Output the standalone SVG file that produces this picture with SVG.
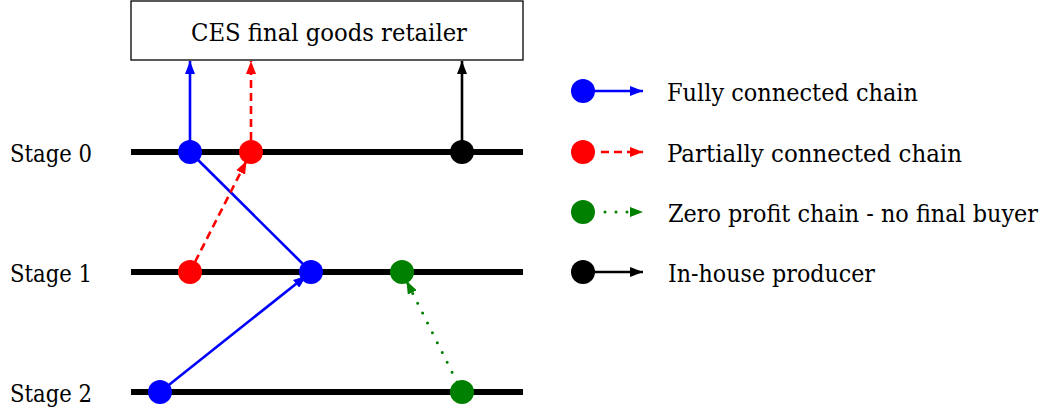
<svg xmlns="http://www.w3.org/2000/svg" width="1054" height="414" viewBox="0 0 1054 414">
<style>
text{font-family:"DejaVu Serif Condensed","DejaVu Serif","Liberation Serif",serif;font-size:25px;fill:#000}
.stage{stroke:#000;stroke-width:6}
.c{stroke-width:2.6;fill:none}
.b{stroke:#0000ff}
.r{stroke:#ff0000;stroke-dasharray:8 5}
.g{stroke:#008000;stroke-dasharray:0 11;stroke-linecap:round;stroke-width:3}
.k{stroke:#000}
</style>
<defs>
<marker id="ab" markerUnits="userSpaceOnUse" markerWidth="14" markerHeight="10" refX="13" refY="5" orient="auto"><path d="M0,0 L13,5 L0,10 Z" fill="#0000ff"/></marker>
<marker id="ar" markerUnits="userSpaceOnUse" markerWidth="14" markerHeight="10" refX="13" refY="5" orient="auto"><path d="M0,0 L13,5 L0,10 Z" fill="#ff0000"/></marker>
<marker id="ag" markerUnits="userSpaceOnUse" markerWidth="14" markerHeight="10" refX="13" refY="5" orient="auto"><path d="M0,0 L13,5 L0,10 Z" fill="#008000"/></marker>
<marker id="ak" markerUnits="userSpaceOnUse" markerWidth="14" markerHeight="10" refX="13" refY="5" orient="auto"><path d="M0,0 L13,5 L0,10 Z" fill="#000"/></marker>
</defs>
<rect width="1054" height="414" fill="#fff"/>
<g id="retailer">
<rect x="131" y="1" width="392" height="59" fill="#fff" stroke="#000" stroke-width="1.3"/>
<text x="191" y="41" textLength="276" lengthAdjust="spacingAndGlyphs">CES final goods retailer</text>
</g>
<g id="stages">
<line class="stage" x1="131" y1="152" x2="523" y2="152"/>
<line class="stage" x1="131" y1="272" x2="523" y2="272"/>
<line class="stage" x1="131" y1="392" x2="523" y2="392"/>
<text x="10" y="162" textLength="82" lengthAdjust="spacingAndGlyphs">Stage 0</text>
<text x="10" y="282" textLength="82" lengthAdjust="spacingAndGlyphs">Stage 1</text>
<text x="10" y="402" textLength="82" lengthAdjust="spacingAndGlyphs">Stage 2</text>
</g>
<g id="connectors">
<line class="c b" x1="190" y1="152" x2="190" y2="61" marker-end="url(#ab)"/>
<line class="c r" x1="251" y1="140" x2="251" y2="61" marker-end="url(#ar)"/>
<line class="c k" x1="462" y1="152" x2="462" y2="61" marker-end="url(#ak)"/>
<line class="c b" x1="311" y1="272" x2="190" y2="152"/>
<line class="c b" x1="160" y1="392" x2="306.3" y2="275.7" marker-end="url(#ab)"/>
<line class="c r" x1="195" y1="262" x2="246.5" y2="160.9" marker-end="url(#ar)"/>
<line class="c g" x1="457" y1="382" x2="406.5" y2="280.9" marker-end="url(#ag)"/>
</g>
<g id="s0-blue"><circle cx="190" cy="152" r="12" fill="#0000ff"/></g>
<g id="s0-red"><circle cx="251" cy="152" r="12" fill="#ff0000"/></g>
<g id="s0-black"><circle cx="462" cy="152" r="12" fill="#000"/></g>
<g id="s1-red"><circle cx="190" cy="272" r="12" fill="#ff0000"/></g>
<g id="s1-blue"><circle cx="311" cy="272" r="12" fill="#0000ff"/></g>
<g id="s1-green"><circle cx="402" cy="272" r="12" fill="#008000"/></g>
<g id="s2-blue"><circle cx="160" cy="392" r="12" fill="#0000ff"/></g>
<g id="s2-green"><circle cx="462" cy="392" r="12" fill="#008000"/></g>
<g id="legend">
<g id="leg-full">
<line class="c b" x1="583" y1="91" x2="643" y2="91" marker-end="url(#ab)"/>
<circle cx="583" cy="91" r="12" fill="#0000ff"/>
<text x="667" y="101" textLength="251" lengthAdjust="spacingAndGlyphs">Fully connected chain</text>
</g>
<g id="leg-partial">
<line class="c r" x1="601" y1="152" x2="643" y2="152" marker-end="url(#ar)"/>
<circle cx="583" cy="152" r="12" fill="#ff0000"/>
<text x="667" y="162" textLength="295" lengthAdjust="spacingAndGlyphs">Partially connected chain</text>
</g>
<g id="leg-zero">
<line class="c g" x1="605" y1="212" x2="643" y2="212" marker-end="url(#ag)"/>
<circle cx="583" cy="212" r="12" fill="#008000"/>
<text x="668" y="222" textLength="370" lengthAdjust="spacingAndGlyphs">Zero profit chain - no final buyer</text>
</g>
<g id="leg-inhouse">
<line class="c k" x1="583" y1="272" x2="643" y2="272" marker-end="url(#ak)"/>
<circle cx="583" cy="272" r="12" fill="#000"/>
<text x="668" y="282" textLength="207" lengthAdjust="spacingAndGlyphs">In-house producer</text>
</g>
</g>
</svg>
